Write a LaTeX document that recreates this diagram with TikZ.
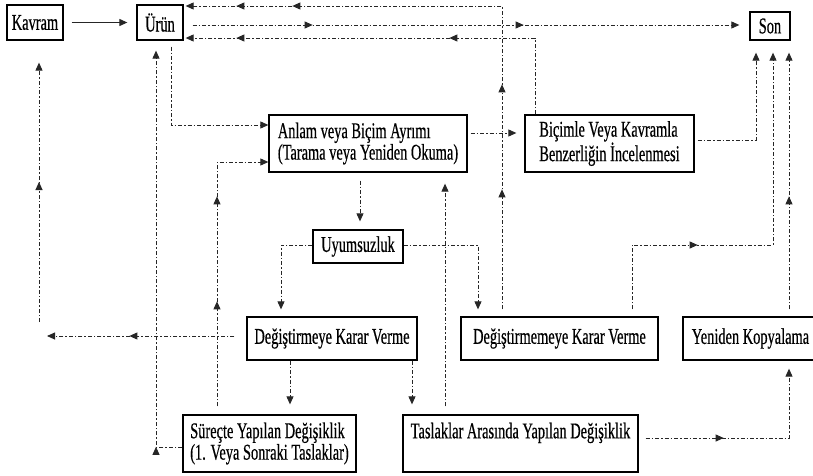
\documentclass[tikz,border=0pt]{standalone}
\usepackage{fontspec}
\setmainfont{Liberation Serif}[FakeStretch=0.64, FakeBold=0.45]
\usetikzlibrary{arrows.meta,decorations.markings}
\begin{document}
\begin{tikzpicture}[x=1pt,y=-1pt,
  box/.style={draw=black, line width=1.3pt, inner sep=0pt, align=left,
    font=\fontsize{22.5}{20}\selectfont},
  conn/.style={draw=black!85, line width=0.9pt,
    dash pattern=on 4pt off 2pt on 1.5pt off 2pt,
    -{Triangle[length=8pt,width=7pt]}},
  solidarrow/.style={draw=black!85, line width=1.1pt, -{Triangle[length=8pt,width=7pt]}},
  tipmark/.style={postaction={decorate,decoration={markings,
    mark=at position #1 with {\arrow{Triangle[length=8pt,width=7pt]}}}}}
]
\useasboundingbox (0,0) rectangle (813,475);
\fill[white] (0,0) rectangle (813,475);

% boxes
\node[box, minimum width=56pt, minimum height=35pt] (kav) at (35,22.5) {Kavram};
\node[box, minimum width=46pt, minimum height=35pt] (urun) at (160,22.5) {Ürün};
\node[box, minimum width=40pt, minimum height=28pt] (son) at (770,26) {Son};
\node[box, minimum width=198pt, minimum height=57pt] (anlam) at (368,143.5)
  {Anlam veya Biçim Ayrımı\\(Tarama veya Yeniden Okuma)};
\node[box, minimum width=169pt, minimum height=57pt] (bic) at (609.5,143.5)
  {Biçimle Veya Kavramla\\Benzerliğin İncelenmesi};
\node[box, minimum width=90pt, minimum height=33pt] (uyum) at (358,246.5) {Uyumsuzluk};
\node[box, minimum width=170pt, minimum height=43pt] (degis) at (332,338.5) {Değiştirmeye Karar Verme};
\node[box, minimum width=197pt, minimum height=43pt] (degme) at (559.5,338.5) {Değiştirmemeye Karar Verme};
\node[box, minimum width=135pt, minimum height=43pt] (yeni) at (750.5,338.5) {Yeniden Kopyalama};
\node[box, minimum width=173pt, minimum height=57pt] (surec) at (269.5,443.5)
  {Süreçte Yapılan Değişiklik\\(1. Veya Sonraki Taslaklar)};
\node[box, minimum width=235pt, minimum height=57pt] (tasl) at (520.5,443.5)
  {Taslaklar Arasında Yapılan Değişiklik\\ \strut};

% connectors
\draw[solidarrow, shorten <=8pt, shorten >=9pt] (kav.east) -- (urun.west);

\draw[conn, shorten <=7pt, shorten >=2pt, tipmark=127pt, tipmark=232pt, tipmark=520pt, tipmark=576pt]
  (degme.north -| 502,0) -- (502,6) -- (urun.east |- 0,6);
\draw[conn, shorten <=9pt, shorten >=10pt, tipmark=129pt, tipmark=340pt]
  (urun.east |- 0,25) -- (son.west |- 0,25);
\draw[conn, shorten >=2pt, tipmark=162pt, tipmark=375pt]
  (bic.north -| 535,0) -- (535,38) -- (urun.east |- 0,38);
\draw[conn, shorten <=6pt] (urun.south -| 171,0) -- (171,125) -- (anlam.west |- 0,125);
\draw[conn, shorten >=10pt, tipmark=26.5pt]
  (surec.west |- 0,447) -- (156,447) -- (urun.south -| 156,0);

\coordinate (lend) at (47,336);
\draw[conn, shorten <=12pt, tipmark=117pt] (degis.west |- 0,336) -- (lend);
\coordinate (lbot) at (39,322);
\draw[conn, shorten >=22pt, tipmark=140pt] (lbot) -- (kav.south -| lbot);

\draw[conn, shorten <=8pt, tipmark=113pt, tipmark=218pt]
  (surec.north -| 217,0) -- (217,162) -- (anlam.west |- 0,162);
\draw[conn, shorten <=8pt, shorten >=8pt] (anlam.south -| 360,0) -- (uyum.north -| 360,0);
\draw[conn, shorten <=3pt, shorten >=8pt] (anlam.east |- 0,133) -- (bic.west |- 0,133);
\draw[conn, shorten <=3pt, shorten >=12pt] (bic.east |- 0,140) -- (756,140) -- (son.south -| 756,0);
\draw[conn, shorten <=7pt, shorten >=12pt, tipmark=137pt]
  (degme.north -| 632,0) -- (632,245) -- (773,245) -- (son.south -| 773,0);
\draw[conn, shorten <=7pt, shorten >=12pt, tipmark=120pt]
  (yeni.north -| 789,0) -- (son.south -| 789,0);
\draw[conn, shorten >=7pt] (uyum.west |- 0,245) -- (281,245) -- (degis.north -| 281,0);
\draw[conn, shorten >=7pt] (uyum.east |- 0,245) -- (478,245) -- (degme.north -| 478,0);
\draw[conn, shorten >=10pt] (degis.south -| 290,0) -- (surec.north -| 290,0);
\draw[conn, shorten >=10pt] (degis.south -| 412,0) -- (tasl.north -| 412,0);
\draw[conn, shorten <=8pt, shorten >=11pt] (tasl.north -| 445,0) -- (anlam.south -| 445,0);
\draw[conn, shorten <=7pt, shorten >=8pt, tipmark=85pt]
  (tasl.east |- 0,438) -- (789,438) -- (yeni.south -| 789,0);
\end{tikzpicture}
\end{document}
